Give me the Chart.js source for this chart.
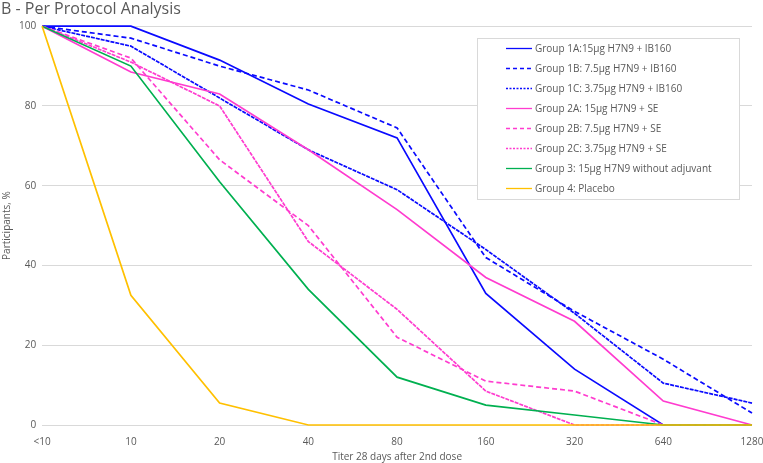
<!DOCTYPE html>
<html>
<head>
<meta charset="utf-8">
<script src="https://cdn.jsdelivr.net/npm/chart.js@4"></script>
<style>
    html, body { margin: 0; padding: 0; background: #fff; }
    #wrap { width: 763px; height: 463px; }
</style>
</head>
<body>
<div id="wrap"><canvas id="titerChart"></canvas></div>
<script>
// Titer categories (x axis)
const titers = ['<10', '10', '20', '40', '80', '160', '320', '640', '1280'];

// Participants, % per group
const group1A = [100, 100, 91.5, 80.5, 72, 33, 14, 0, 0];
const group1B = [100, 97, 90, 84, 74.5, 42, 28.5, 16.5, 3];
const group1C = [100, 95, 82, 69, 59, 44, 28, 10.5, 5.5];
const group2A = [100, 88.5, 83, 69, 54, 37, 26, 6, 0];
const group2B = [100, 92, 66.5, 50, 22, 11, 8.5, 0, 0];
const group2C = [100, 91, 80, 46, 29, 8.5, 0, 0, 0];
const group3 = [100, 90, 61, 34, 12, 5, 2.5, 0, 0];
const group4 = [100, 32.5, 5.5, 0, 0, 0, 0, 0, 0];

const groupLabels = [
    'Group 1A:15µg H7N9 + IB160',
    'Group 1B: 7.5µg H7N9 + IB160',
    'Group 1C: 3.75µg H7N9 + IB160',
    'Group 2A: 15µg H7N9 + SE',
    'Group 2B: 7.5µg H7N9 + SE',
    'Group 2C: 3.75µg H7N9 + SE',
    'Group 3: 15µg H7N9 without adjuvant',
    'Group 4: Placebo'
];

const blue = '#0a0aff';
const pink = '#ff3ccf';
const green = '#00b050';
const yellow = '#ffc000';

const textColor = '#595959';
const fontFamily = "'Open Sans', 'Noto Sans', sans-serif";

function line(idx, data, color, dash, legendDash) {
    return {
        label: groupLabels[idx],
        data: data,
        borderColor: color,
        backgroundColor: color,
        borderWidth: 1.7,
        borderDash: dash,
        legendDash: legendDash,
        pointRadius: 0,
        tension: 0,
        fill: false,
        clip: 4,
        order: 7 - idx
    };
}

// legend drawn inside the plot, like the original
const boxLegend = {
    id: 'boxLegend',
    afterDraw(chart) {
        const ctx = chart.ctx;
        const x0 = 477, y0 = 38, w = 262, h = 161;
        ctx.save();
        ctx.fillStyle = '#fff';
        ctx.fillRect(x0, y0, w, h);
        ctx.strokeStyle = '#d9d9d9';
        ctx.lineWidth = 1;
        ctx.strokeRect(x0 + 0.5, y0 + 0.5, w, h);
        ctx.font = '10px ' + fontFamily;
        ctx.textBaseline = 'middle';
        chart.data.datasets.forEach((ds, i) => {
            const y = y0 + 10 + i * 20;
            ctx.strokeStyle = ds.borderColor;
            ctx.lineWidth = 1.3;
            ctx.setLineDash(ds.legendDash || []);
            ctx.beginPath();
            ctx.moveTo(506, y + 0.5);
            ctx.lineTo(532, y + 0.5);
            ctx.stroke();
            ctx.setLineDash([]);
            ctx.fillStyle = textColor;
            ctx.fillText(ds.label, 535, y + 1);
        });
        ctx.restore();
    }
};

const ctx = document.getElementById('titerChart').getContext('2d');
const titerChart = new Chart(ctx, {
    type: 'line',
    data: {
        labels: titers,
        datasets: [
            line(0, group1A, blue, [], []),
            line(1, group1B, blue, [5, 3], [4, 3]),
            line(2, group1C, blue, [4, 1], [2, 1.5]),
            line(3, group2A, pink, [], []),
            line(4, group2B, pink, [5, 3], [4, 3]),
            line(5, group2C, pink, [4, 1], [2, 1.5]),
            line(6, group3, green, [], []),
            line(7, group4, yellow, [], [])
        ]
    },
    options: {
        responsive: true,
        maintainAspectRatio: false,
        animation: false,
        layout: {
            padding: { left: 1, right: 0, top: 0, bottom: 0 }
        },
        plugins: {
            legend: { display: false },
            tooltip: { enabled: false },
            title: {
                display: true,
                text: 'B - Per Protocol Analysis',
                align: 'start',
                color: textColor,
                font: { family: fontFamily, size: 16, weight: 'normal' },
                padding: { top: 0, bottom: 7 }
            }
        },
        scales: {
            x: {
                offset: false,
                grid: { display: false },
                border: { display: false },
                afterFit(scale) {
                    scale.paddingRight = 11;
                },
                ticks: {
                    color: textColor,
                    font: { family: fontFamily, size: 10 },
                    maxRotation: 0,
                    autoSkip: false,
                    padding: 3
                },
                title: {
                    display: true,
                    text: 'Titer 28 days after 2nd dose',
                    color: textColor,
                    font: { family: fontFamily, size: 10 },
                    padding: { top: 0, bottom: 0 }
                }
            },
            y: {
                min: 0,
                max: 100,
                grid: { color: '#d9d9d9', lineWidth: 1, drawTicks: false },
                border: { display: false },
                ticks: {
                    stepSize: 20,
                    color: textColor,
                    font: { family: fontFamily, size: 10 },
                    padding: 6
                },
                title: {
                    display: true,
                    text: 'Participants, %',
                    color: textColor,
                    font: { family: fontFamily, size: 10 },
                    padding: { top: 0, bottom: 0 }
                }
            }
        }
    },
    plugins: [boxLegend]
});
</script>
</body>
</html>
